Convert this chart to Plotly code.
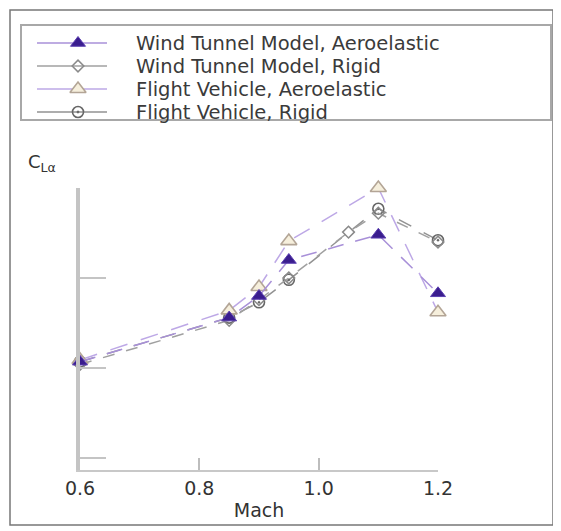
import plotly.graph_objects as go

W, H = 561, 531
# the page body adds an 8px margin; layout pixel positions below are the
# positions seen in the reference window, shifted back by this offset
OFF = 8

# ---- data (y in arbitrary C_L_alpha units) ----
mach_wt_aero = [0.6, 0.85, 0.9, 0.95, 1.1, 1.2]
cla_wt_aero = [1.07, 1.56, 1.80, 2.20, 2.48, 1.83]

mach_wt_rigid = [0.6, 0.85, 0.9, 0.95, 1.05, 1.1, 1.2]
cla_wt_rigid = [1.04, 1.53, 1.76, 2.00, 2.51, 2.72, 2.40]

mach_fv_aero = [0.6, 0.85, 0.9, 0.95, 1.1, 1.2]
cla_fv_aero = [1.09, 1.64, 1.90, 2.41, 3.00, 1.62]

mach_fv_rigid = [0.6, 0.85, 0.9, 0.95, 1.1, 1.2]
cla_fv_rigid = [1.07, 1.56, 1.73, 1.98, 2.77, 2.42]

series_names = [
    "Wind Tunnel Model, Aeroelastic",
    "Wind Tunnel Model, Rigid",
    "Flight Vehicle, Aeroelastic",
    "Flight Vehicle, Rigid",
]
x_tick_vals = [0.6, 0.8, 1.0, 1.2]
x_tick_text = ["0.6", "0.8", "1.0", "1.2"]
y_tick_vals = [0, 1, 2, 3]

# ---- styles ----
styles = [
    dict(marker=dict(symbol="triangle-up", size=13, color="#3a1d8e",
                     line=dict(color="#5b3fb0", width=1)),
         line=dict(color="#a890d8", width=1.5, dash="16px,12px")),
    dict(marker=dict(symbol="diamond-open", size=9, color="#8a8a8a",
                     line=dict(color="#8a8a8a", width=1.5)),
         line=dict(color="#a0a0a0", width=1.5, dash="12px,12px")),
    dict(marker=dict(symbol="triangle-up", size=14, color="#f6efdc",
                     line=dict(color="#b3a596", width=1.6)),
         line=dict(color="#bda8e6", width=1.5, dash="18px,14px")),
    dict(marker=dict(symbol="circle-open-dot", size=11, color="#666666",
                     line=dict(color="#666666", width=1.6)),
         line=dict(color="#929292", width=1.5, dash="14px,14px")),
]
data = [
    (mach_wt_aero, cla_wt_aero),
    (mach_wt_rigid, cla_wt_rigid),
    (mach_fv_aero, cla_fv_aero),
    (mach_fv_rigid, cla_fv_rigid),
]

fig = go.Figure()
draw_order = [3, 1, 2, 0]
for i in draw_order:
    xs, ys = data[i]
    fig.add_trace(go.Scatter(
        x=xs, y=ys, mode="lines+markers", name=series_names[i],
        marker=styles[i]["marker"], line=styles[i]["line"],
        cliponaxis=False, showlegend=False, xaxis="x", yaxis="y"))

# ---- hand-made legend in its own pixel-like axes ----
LEG_L, LEG_R, LEG_T, LEG_B = 21 - OFF, 551 - OFF, 25 - OFF, 120 - OFF
row_y0, row_dy = 43 - OFF, 23
line_x0, line_x1, mark_x, text_x = 37 - OFF, 107 - OFF, 78 - OFF, 134 - OFF
for k in range(4):
    ry = row_y0 + k * row_dy
    fig.add_trace(go.Scatter(
        x=[line_x0, line_x1], y=[ry, ry], mode="lines",
        line=dict(color=styles[k]["line"]["color"], width=1.6),
        showlegend=False, hoverinfo="skip", xaxis="x2", yaxis="y2"))
    fig.add_trace(go.Scatter(
        x=[mark_x], y=[ry], mode="markers", marker=styles[k]["marker"],
        showlegend=False, hoverinfo="skip", cliponaxis=False,
        xaxis="x2", yaxis="y2"))
    fig.add_annotation(
        x=text_x, y=ry, xref="x2", yref="y2", text=series_names[k],
        showarrow=False, xanchor="left", yanchor="middle",
        font=dict(family="DejaVu Sans", size=19.5, color="#3a3a3a"))

# plot-area pixel geometry
PL, PR, PT, PB = 80 - OFF, 438 - OFF, 188 - OFF, 470 - OFF

fig.update_layout(
    width=W, height=H, autosize=False,
    margin=dict(l=0, r=0, t=0, b=0),
    paper_bgcolor="white", plot_bgcolor="rgba(0,0,0,0)",
    showlegend=False,
    xaxis=dict(domain=[PL / W, PR / W], range=[0.6, 1.2],
               tickvals=x_tick_vals, ticktext=x_tick_text,
               ticks="inside", ticklen=12, tickwidth=2, tickcolor="#bdbdbd",
               showline=True, linecolor="#c8c8c8", linewidth=2,
               showgrid=False, zeroline=False, automargin=False,
               tickfont=dict(family="DejaVu Sans", size=19, color="#333333"),
               title=dict(text="Mach", standoff=6,
                          font=dict(family="DejaVu Sans", size=19, color="#333333"))),
    yaxis=dict(domain=[(H - PB) / H, (H - PT) / H], range=[-0.133, 3.0],
               tickvals=y_tick_vals, showticklabels=False,
               ticks="inside", ticklen=26, tickwidth=2, tickcolor="#c4c4c4",
               showline=True, linecolor="#c4c4c4", linewidth=4,
               showgrid=False, zeroline=False, automargin=False),
    xaxis2=dict(domain=[LEG_L / W, LEG_R / W], range=[LEG_L, LEG_R],
                visible=False, fixedrange=True),
    yaxis2=dict(domain=[(H - LEG_B) / H, (H - LEG_T) / H], range=[LEG_B, LEG_T],
                visible=False, fixedrange=True),
)

# legend box and outer frame
fig.add_shape(type="rect", xref="paper", yref="paper",
              x0=LEG_L / W, x1=LEG_R / W, y0=(H - LEG_B) / H, y1=(H - LEG_T) / H,
              line=dict(color="#a8a8a8", width=2))
fig.add_shape(type="rect", xref="paper", yref="paper",
              x0=(10 - OFF) / W, x1=(553 - OFF) / W,
              y0=(H - (525 - OFF)) / H, y1=(H - (10 - OFF)) / H,
              line=dict(color="#777777", width=1.5))

# y-axis label C_L_alpha
fig.add_annotation(x=(26 - OFF) / W, y=(H - (163 - OFF)) / H,
                   xref="paper", yref="paper",
                   text="C<sub>Lα</sub>", showarrow=False,
                   xanchor="left", yanchor="middle",
                   font=dict(family="DejaVu Sans", size=18, color="#333333"))

fig.write_html("out.html")
